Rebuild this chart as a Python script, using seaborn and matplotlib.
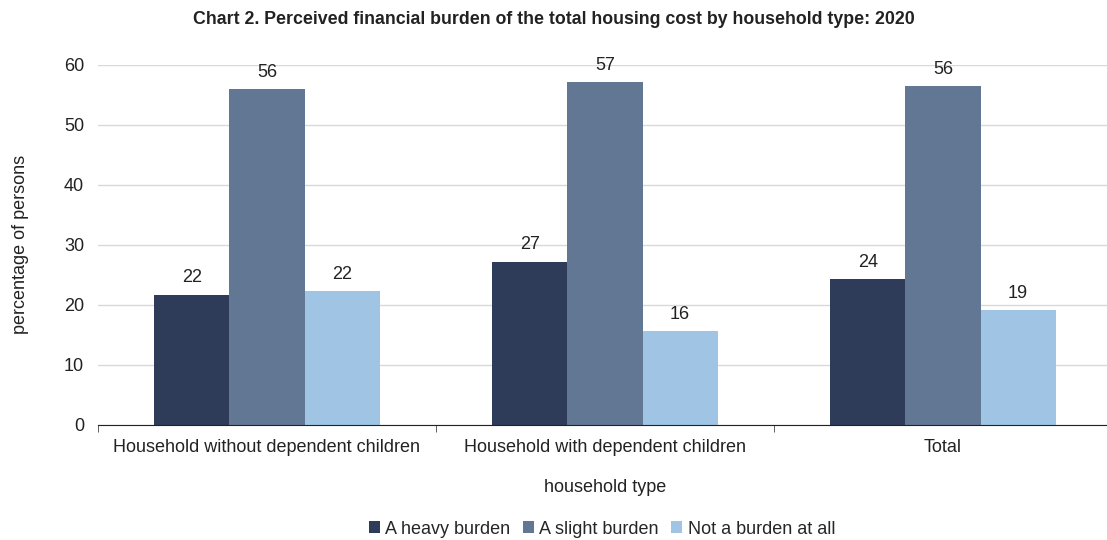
import pandas as pd
import numpy as np
import matplotlib.pyplot as plt
import seaborn as sns
from matplotlib.ticker import FixedLocator

household_types = ['Household without dependent children', 'Household with dependent children', 'Total']
burden_levels = ['A heavy burden', 'A slight burden', 'Not a burden at all']
heavy = [21.7, 27.2, 24.3]
slight = [55.9, 57.1, 56.4]
not_burden = [22.3, 15.6, 19.1]
colors = ['#2E3C5A', '#627794', '#9FC4E4']

df = pd.DataFrame({
    'household type': np.repeat(household_types, 3),
    'burden': burden_levels * 3,
    'value': [v for trio in zip(heavy, slight, not_burden) for v in trio],
})

sns.set_style('white')
plt.rcParams['font.family'] = ['Liberation Sans', 'DejaVu Sans']

fig = plt.figure(figsize=(11.07, 5.4), dpi=100)
ax = fig.add_axes([0.0885, 0.213, 0.916, 0.667])

sns.barplot(data=df, x='household type', y='value', hue='burden', order=household_types,
            hue_order=burden_levels, palette=colors, width=0.667, saturation=1, ax=ax,
            edgecolor='none', legend=True)

for cont in ax.containers:
    ax.bar_label(cont, labels=[f'{v:.0f}' for v in cont.datavalues], padding=6, fontsize=13, color='#222222')

ax.set_ylim(0, 60)
ax.set_xlim(-0.5, 2.5)
ax.set_yticks(range(0, 61, 10))
ax.yaxis.grid(True, color='#d9d9d9', linewidth=1)
ax.set_axisbelow(True)
for s in ['top', 'right', 'left']:
    ax.spines[s].set_visible(False)
ax.spines['bottom'].set_color('#222222')
ax.xaxis.set_minor_locator(FixedLocator([-0.5, 0.5, 1.5, 2.5]))
ax.tick_params(axis='x', which='minor', length=5, color='#444444', bottom=True)
ax.tick_params(axis='x', which='major', length=0, labelsize=13, pad=10, colors='#222222')
ax.tick_params(axis='y', length=0, labelsize=13, pad=10, colors='#222222')

ax.set_xlabel('household type', fontsize=13, labelpad=17, color='#222222')
ax.set_ylabel('percentage of persons', fontsize=13, labelpad=25, color='#222222')
fig.text(0.5, 1 - 19 / 540, 'Chart 2. Perceived financial burden of the total housing cost by household type: 2020',
         ha='center', va='center', fontsize=12.8, fontweight='bold', color='#222222')

handles, labels = ax.get_legend_handles_labels()
ax.legend(handles, labels, loc='center', bbox_to_anchor=(0.497, -0.289), ncol=3, frameon=False,
          fontsize=13, handlelength=0.6, handleheight=0.6, handletextpad=0.3, columnspacing=0.7)

fig.savefig('out.png', dpi=100)
